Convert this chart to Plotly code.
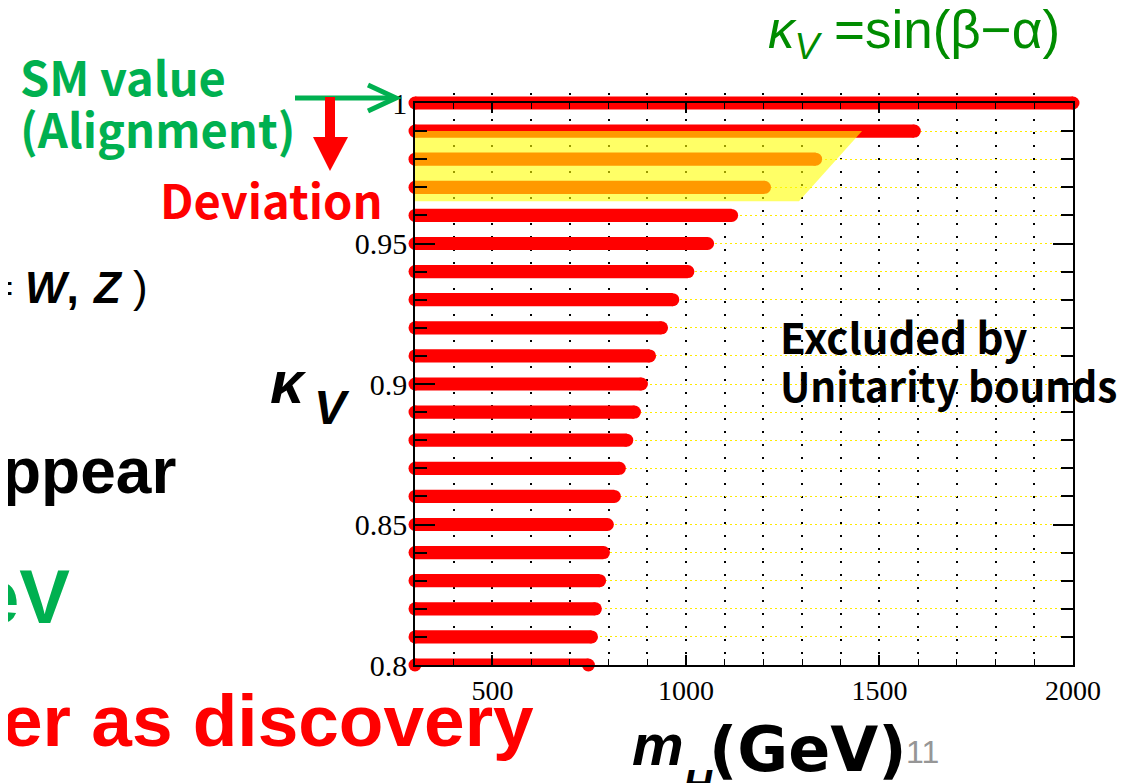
import plotly.graph_objects as go

# ---- data ----
kappa_v = [1.00, 0.99, 0.98, 0.97, 0.96, 0.95, 0.94, 0.93, 0.92, 0.91, 0.90,
           0.89, 0.88, 0.87, 0.86, 0.85, 0.84, 0.83, 0.82, 0.81, 0.80]
mh_max = [2000, 1590, 1335, 1203, 1118, 1056, 1005, 966, 937, 906, 885,
          867, 847, 828, 815, 797, 787, 777, 766, 756, 748]
mh_min = 300

# highlighted (yellow) region
hl_x = [300, 1455, 1292, 300]
hl_y = [0.990, 0.990, 0.965, 0.965]

x_tickvals = [500, 1000, 1500, 2000]
x_ticktext = ["500", "1000", "1500", "2000"]
y_tickvals = [0.8, 0.85, 0.9, 0.95, 1.0]
y_ticktext = ["0.8", "0.85", "0.9", "0.95", "1"]

# ---- layout geometry (page pixels) ----
OFF = 8                      # page body margin
W, H = 1127 - OFF, 783 - OFF
L, R, T, B = 415, 1073, 103, 665   # frame of the chart on the page
EXT = 10                     # extra room above the frame for the top bar
PH = (B - T) + EXT
frac = (B - T) / PH
y_top_ext = 0.8 + 0.2 / frac

fig = go.Figure()

fig.add_trace(go.Bar(
    orientation="h", y=kappa_v, x=[m - mh_min for m in mh_max], base=mh_min,
    width=0.0047, marker=dict(color="#ff0000", line=dict(width=0)),
    cliponaxis=False, showlegend=False, hoverinfo="skip",
    xaxis="x", yaxis="y"))

fig.add_trace(go.Scatter(
    x=[mh_min] * len(kappa_v) + mh_max, y=kappa_v + kappa_v, mode="markers",
    marker=dict(size=13, color="#ff0000", line=dict(width=0)),
    cliponaxis=False, showlegend=False, hoverinfo="skip",
    xaxis="x", yaxis="y"))

fig.add_trace(go.Scatter(
    x=hl_x, y=hl_y, mode="lines", fill="toself",
    fillcolor="rgba(255,255,0,0.6)", line=dict(width=0),
    showlegend=False, hoverinfo="skip", xaxis="x", yaxis="y"))

# empty trace so the framed axes get their own subplot
fig.add_trace(go.Scatter(x=[], y=[], xaxis="x2", yaxis="y2",
                         showlegend=False, hoverinfo="skip"))


def px(x):
    return (x - L) / (R - L)


def py(y):
    return (B - y) / PH


def ann(text, x, y, size, color="black", family="Liberation Sans",
        xanchor="left"):
    fig.add_annotation(text=text, x=px(x), y=py(y), xref="paper", yref="paper",
                       xanchor=xanchor, yanchor="middle", showarrow=False,
                       font=dict(size=size, color=color, family=family))


GREEN = "rgb(0,176,80)"
JP = "Noto Sans CJK JP"

ann("<i>κ</i><sub><i>V</i></sub> =sin(β−α)", 766, 33, 53, "rgb(0,140,0)")
ann("<b>SM value</b>", 18, 75, 47, GREEN, JP)
ann("<b>(Alignment)</b>", 18, 127, 47, GREEN, JP)
ann("<b>Deviation</b>", 158, 198, 47, "#ff0000", JP)
ann("=", 15, 288, 40, "black", xanchor="right")
ann("<b><i>W</i>,</b>", 23, 287, 44)
ann("<b><i>Z</i></b>", 90, 287, 44)
ann(")", 131, 286, 44)
ann("<b><i>κ</i></b>", 288, 382, 60, xanchor="center")
ann("<b><i>V</i></b>", 332, 407, 48, xanchor="center")
ann("<b>ppear</b>", 0, 471, 64)
ann("<b>eV</b>", 72, 596, 76, GREEN, xanchor="right")
ann("<b>er as discovery</b>", 536, 720, 73, "#ff0000", xanchor="right")
ann("<b>Excluded by</b>", 778, 335, 42, "black", JP)
ann("<b>Unitarity bounds</b>", 778, 384, 40.5, "black", JP)
ann("<b><i>m</i></b>", 658, 744, 58, xanchor="center")
ann("<b><i>H</i></b>", 698, 784, 40, xanchor="center")
ann("<b>(GeV)</b>", 707, 749, 62, family="DejaVu Sans")
ann("11", 904, 752, 32, "rgb(150,150,150)")

# arrows
shapes = []
shapes.append(dict(type="line", xref="paper", yref="paper",
                   x0=px(295), y0=py(98), x1=px(395), y1=py(98),
                   line=dict(color=GREEN, width=5)))
shapes.append(dict(type="path", xref="paper", yref="paper",
                   path=f"M {px(368)} {py(85)} L {px(396)} {py(98)} L {px(368)} {py(111)}",
                   line=dict(color=GREEN, width=5)))
shapes.append(dict(type="line", xref="paper", yref="paper",
                   x0=px(330), y0=py(97), x1=px(330), y1=py(140),
                   line=dict(color="#ff0000", width=10)))
shapes.append(dict(type="path", xref="paper", yref="paper",
                   path=f"M {px(313)} {py(137)} L {px(348)} {py(137)} L {px(330)} {py(171)} Z",
                   fillcolor="#ff0000", line=dict(color="#ff0000", width=0)))
fig.update_layout(shapes=shapes)

xtickfont = dict(family="Liberation Serif", size=28, color="black")
ytickfont = dict(family="Liberation Serif", size=30, color="black")

DOT_V = "2px,11px"
DOT_H = "2px,3px"

fig.update_layout(
    # data axes: grid + bars (slightly taller so the top bar is not clipped)
    xaxis=dict(domain=[0, 1], anchor="y", range=[300, 2000],
               tickmode="linear", tick0=300, dtick=100, showticklabels=False,
               ticks="", showline=False, zeroline=False, showgrid=True,
               gridcolor="black", griddash=DOT_V, gridwidth=2),
    yaxis=dict(domain=[0, 1], anchor="x", range=[0.8, y_top_ext],
               tickmode="linear", tick0=0.8, dtick=0.01, showticklabels=False,
               ticks="", showline=False, zeroline=False, showgrid=True,
               gridcolor="rgb(255,235,0)", griddash=DOT_H, gridwidth=1),
    # framed axes: lines, ticks, tick labels (drawn above the bars)
    xaxis2=dict(domain=[0, 1], anchor="y2", range=[300, 2000],
                tickvals=x_tickvals, ticktext=x_ticktext,
                ticks="inside", ticklen=10, tickwidth=1.5, tickcolor="black",
                showline=True, linecolor="black", linewidth=1.5,
                mirror="allticks", showgrid=False, zeroline=False,
                tickfont=xtickfont,
                minor=dict(tick0=300, dtick=100, ticks="inside", ticklen=6,
                           tickcolor="black", tickwidth=1.2, showgrid=False)),
    yaxis2=dict(domain=[0, frac], anchor="x2", range=[0.8, 1.0],
                tickvals=y_tickvals, ticktext=y_ticktext,
                ticks="inside", ticklen=20, tickwidth=2, tickcolor="black",
                showline=True, linecolor="black", linewidth=1.5,
                mirror="allticks", showgrid=False, zeroline=False,
                tickfont=ytickfont,
                minor=dict(tick0=0.8, dtick=0.01, ticks="inside", ticklen=12,
                           tickcolor="black", tickwidth=2, showgrid=False)),
    width=W, height=H, autosize=False,
    margin=dict(l=L - OFF, r=W - (R - OFF), t=T - OFF - EXT, b=H - (B - OFF),
                pad=0),
    paper_bgcolor="white", plot_bgcolor="rgba(0,0,0,0)",
    barmode="overlay", showlegend=False)

fig.write_html("out.html")
